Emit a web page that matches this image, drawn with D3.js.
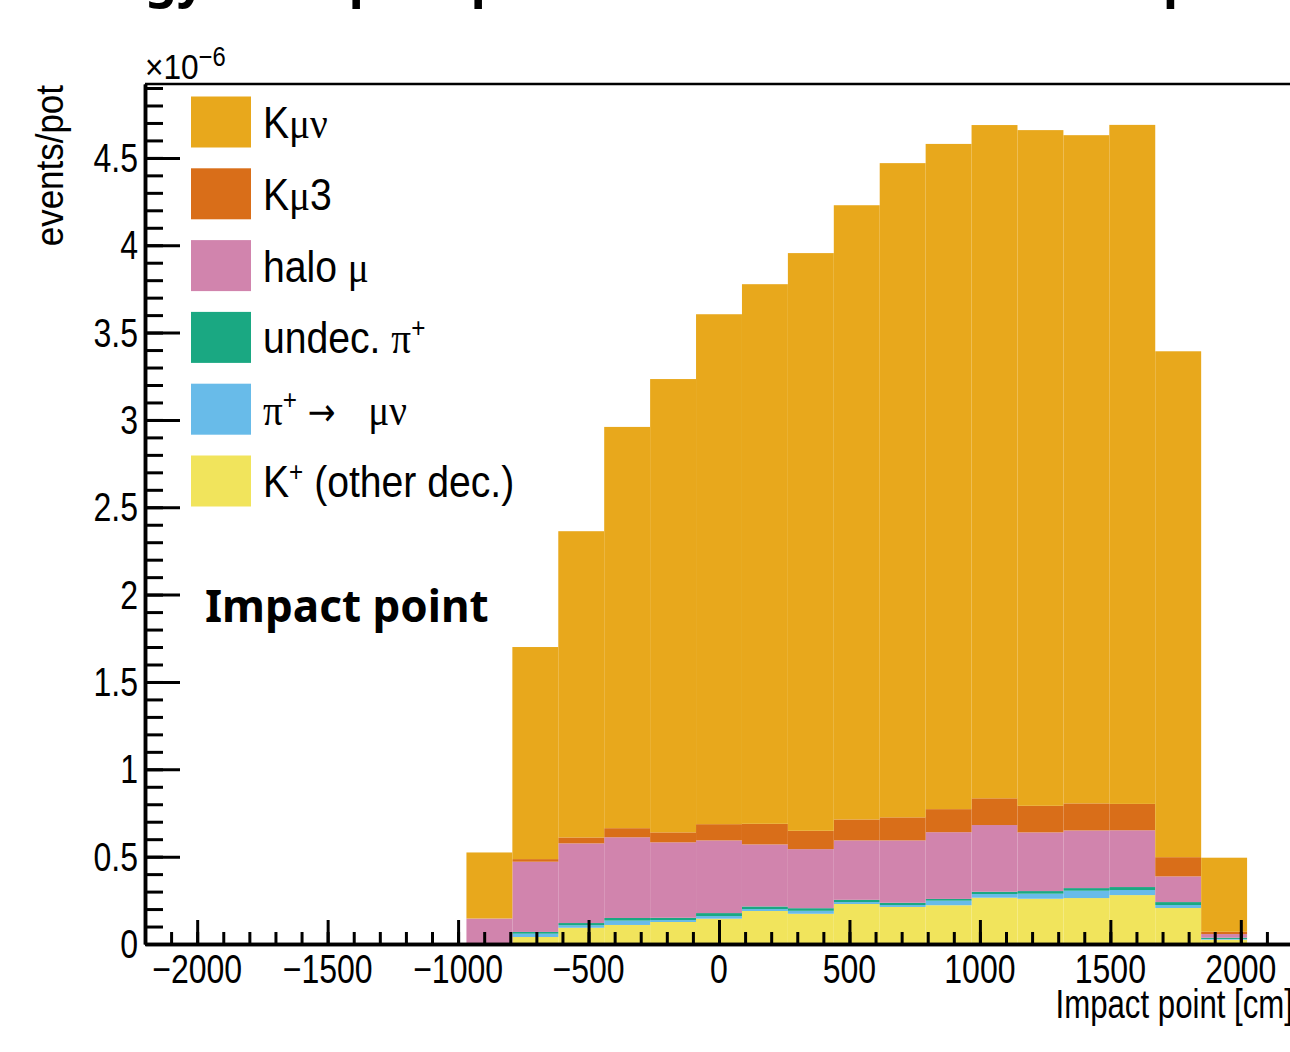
<!DOCTYPE html>
<html><head><meta charset="utf-8">
<script src="https://cdn.jsdelivr.net/npm/d3@7"></script>
<style>body{margin:0;background:#fff;overflow:hidden} svg{display:block} text{white-space:pre}</style>
</head><body>
<svg id="c" width="1290" height="1052"></svg>
<script>
// ---------------- data (units: 1e-6 events/pot) ----------------
const binWidth = 176; // cm
const binLowEdges = [-1144, -968, -792, -616, -440, -264, -88, 88, 264, 440, 616, 792, 968, 1144, 1320, 1496, 1672, 1848];
const kOtherDec = [0, 0, 0.040, 0.093, 0.109, 0.126, 0.145, 0.189, 0.173, 0.229, 0.212, 0.222, 0.265, 0.259, 0.263, 0.280, 0.206, 0.025];
const piMuNu    = [0, 0.005, 0.019, 0.014, 0.025, 0.011, 0.015, 0.011, 0.017, 0.011, 0.011, 0.026, 0.021, 0.029, 0.042, 0.029, 0.017, 0.004];
const undecPi   = [0, 0, 0.010, 0.013, 0.015, 0.013, 0.017, 0.015, 0.015, 0.013, 0.013, 0.010, 0.013, 0.015, 0.015, 0.017, 0.017, 0.007];
const haloMu    = [0, 0.141, 0.402, 0.456, 0.462, 0.432, 0.416, 0.355, 0.338, 0.340, 0.357, 0.382, 0.382, 0.336, 0.330, 0.325, 0.147, 0.021];
const kMu3      = [0, 0, 0.015, 0.034, 0.052, 0.057, 0.093, 0.118, 0.105, 0.120, 0.132, 0.132, 0.153, 0.152, 0.155, 0.151, 0.110, 0.013];
const kMuNu     = [0.005, 0.378, 1.214, 1.753, 2.297, 2.595, 2.919, 3.089, 3.307, 3.516, 3.745, 3.808, 3.854, 3.868, 3.825, 3.887, 2.896, 0.424];

const seriesKeys = ["kOther", "piMuNu", "undecPi", "halo", "kMu3", "kMuNu"]; // bottom -> top
const seriesColors = ["#f1e45c", "#68bbe9", "#1aa882", "#d184ad", "#d96e19", "#e8a81c"];

const xTickMajor = [-2000, -1500, -1000, -500, 0, 500, 1000, 1500, 2000];
const xTickLabels = ["\u22122000", "\u22121500", "\u22121000", "\u2212500", "0", "500", "1000", "1500", "2000"];
const yTickMajor = [0, 0.5, 1, 1.5, 2, 2.5, 3, 3.5, 4, 4.5];
const yTickLabels = ["0", "0.5", "1", "1.5", "2", "2.5", "3", "3.5", "4", "4.5"];

// legend entries, top -> bottom (rich-text parts)
const legendEntries = [
  {key: "kMuNu",   parts: [["K"], ["\u03bc\u03bd", "g"]]},
  {key: "kMu3",    parts: [["K"], ["\u03bc", "g"], ["3"]]},
  {key: "halo",    parts: [["halo "], ["\u03bc", "g"]]},
  {key: "undecPi", parts: [["undec. "], ["\u03c0", "g"], ["+", "sup"]]},
  {key: "piMuNu",  parts: [["\u03c0", "g"], ["+", "sup"], [" "], ["\u2192", "arrow"], ["   "], ["\u03bc\u03bd", "g"]]},
  {key: "kOther",  parts: [["K"], ["+", "sup"], [" (other dec.)"]]}
];

// ---------------- drawing ----------------
const svg = d3.select("#c");
svg.append("rect").attr("width", 1290).attr("height", 1052).attr("fill", "#fff");

const x = d3.scaleLinear().domain([-2200, 2200]).range([145, 1293]);
const y = d3.scaleLinear().domain([0, 4.923]).range([944, 84]);
const color = d3.scaleOrdinal().domain(seriesKeys).range(seriesColors);

const SANS = "'Liberation Sans', Arial, sans-serif";
const SERIF = "'Liberation Serif', 'Times New Roman', serif";
const SX = 0.8; // horizontal condensation of ROOT-like text

function richText(parent, px, py, anchor, size, sx, parts, rotate, supRatio) {
  const sr = supRatio || 0.62;
  const g = parent.append("g")
    .attr("transform", `translate(${px},${py})` + (rotate ? ` rotate(${rotate})` : "") + ` scale(${sx},1)`);
  const t = g.append("text").attr("text-anchor", anchor).attr("font-family", SANS)
    .attr("font-size", size).attr("fill", "#000");
  let raised = 0;
  parts.forEach(p => {
    const ts = t.append("tspan").text(p[0]);
    if (p[1] === "g") ts.attr("font-family", SERIF);
    if (p[1] === "arrow") ts.attr("font-family", "'DejaVu Sans', sans-serif").attr("font-size", size * 0.85);
    if (p[1] === "sup") { raised = size * 0.36; ts.attr("font-size", size * sr).attr("dy", -raised); }
    else if (raised) { ts.attr("dy", raised); raised = 0; }
  });
  return t;
}

// title (mostly cut by the top edge)
svg.append("text").attr("x", 33).attr("y", -3).attr("font-family", "'Noto Sans', sans-serif")
  .attr("font-weight", "bold").attr("font-size", 50)
  .text("Energy vs impact position of muons and the spectrometer acceptance");

// stacked histogram
const rows = binLowEdges.map((lo, i) => ({
  lo, kOther: kOtherDec[i], piMuNu: piMuNu[i], undecPi: undecPi[i],
  halo: haloMu[i], kMu3: kMu3[i], kMuNu: kMuNu[i]
}));
const stacked = d3.stack().keys(seriesKeys)(rows);
const gHist = svg.append("g");
stacked.forEach(layer => {
  gHist.append("g").attr("fill", color(layer.key))
    .selectAll("rect").data(layer).join("rect")
    .attr("x", d => x(d.data.lo))
    .attr("width", d => x(d.data.lo + binWidth) - x(d.data.lo))
    .attr("y", d => y(d[1]))
    .attr("height", d => Math.max(0, y(d[0]) - y(d[1])));
});

// frame top line
svg.append("line").attr("x1", x(-2200)).attr("x2", x(2200)).attr("y1", y.range()[1]).attr("y2", y.range()[1])
  .attr("stroke", "#000").attr("stroke-width", 2.5);

// x axis ticks (pointing up)
const xMinor = d3.range(-2200, 2201, 100);
const gx = svg.append("g").attr("transform", `translate(0,${y(0)})`);
gx.call(d3.axisBottom(x).tickValues(xMinor).tickSize(-12).tickSizeOuter(0).tickFormat(""));
gx.append("g").call(d3.axisBottom(x).tickValues(xTickMajor).tickSize(-24).tickSizeOuter(0).tickFormat(""));
gx.selectAll(".tick line").attr("stroke", "#000").attr("stroke-width", 3);
gx.selectAll(".domain").attr("stroke", "#000").attr("stroke-width", 3.5);
xTickMajor.forEach((v, i) => richText(svg, x(v), 983, "middle", 40, SX, [[xTickLabels[i]]]));
richText(svg, 1293, 1018, "end", 40, 0.78, [["Impact point [cm]"]]);

// y axis ticks (pointing right)
const yMinor = d3.range(0, 4.91, 0.1);
const gy = svg.append("g").attr("transform", `translate(${x(-2200)},0)`);
gy.call(d3.axisLeft(y).tickValues(yMinor).tickSize(-18).tickSizeOuter(0).tickFormat(""));
gy.append("g").call(d3.axisLeft(y).tickValues(yTickMajor).tickSize(-35).tickSizeOuter(0).tickFormat(""));
gy.selectAll(".tick line").attr("stroke", "#000").attr("stroke-width", 3);
gy.selectAll(".domain").attr("stroke", "#000").attr("stroke-width", 3.5);
yTickMajor.forEach((v, i) => richText(svg, 138, y(v) + 14, "end", 40, SX, [[yTickLabels[i]]]));
richText(svg, 63, 85, "end", 38, 0.92, [["events/pot"]], -90);
richText(svg, 145, 79, "start", 36, 0.88, [["\u00d710"], ["\u22126", "sup"]], 0, 0.75);

// legend
const lg = svg.append("g");
legendEntries.forEach((e, i) => {
  const cy = 122 + i * 71.8;
  lg.append("rect").attr("x", 191).attr("y", cy - 25.5).attr("width", 60).attr("height", 51)
    .attr("fill", color(e.key));
  richText(lg, 263, cy + 16, "start", 45, 0.87, e.parts);
});

// in-plot label
svg.append("text").attr("x", 205).attr("y", 622).attr("font-family", "'Noto Sans', sans-serif")
  .attr("font-weight", "bold").attr("font-size", 44).text("Impact point");
</script>
</body></html>
